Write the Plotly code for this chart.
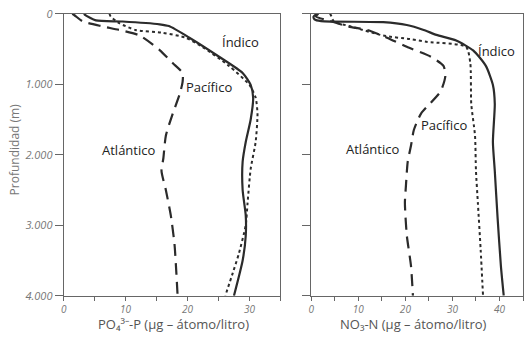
import plotly.graph_objects as go

# ---- Phosphate (left panel) ----
p_ind_depth = [0, 20, 95, 110, 150, 175, 340, 610, 840, 1010, 1190, 1500, 1820, 2100, 2500, 2860, 3150, 3500, 4000]
p_ind_val   = [3.3, 3.5, 5.2, 9.5, 15.5, 17.0, 20.3, 25.1, 28.9, 30.2, 30.6, 30.2, 29.4, 28.9, 28.9, 29.4, 29.4, 28.9, 27.5]

p_pac_depth = [0, 40, 135, 230, 270, 340, 470, 740, 1010, 1190, 1420, 1820, 2200, 2680, 3000, 3400, 3680, 4000]
p_pac_val   = [7.4, 7.6, 9.0, 11.6, 16.0, 19.7, 22.4, 26.7, 30.0, 31.0, 31.3, 31.0, 30.2, 29.7, 29.4, 28.3, 27.3, 26.1]

p_atl_depth = [0, 25, 110, 180, 230, 310, 515, 700, 840, 970, 1150, 1420, 1730, 2050, 2230, 2500, 2860, 3270, 3680, 4000]
p_atl_val   = [1.4, 1.8, 3.1, 6.3, 9.0, 12.3, 15.5, 17.6, 19.2, 19.2, 18.7, 17.6, 16.5, 16.1, 15.8, 16.5, 17.3, 17.9, 18.2, 18.4]

# ---- Nitrate (right panel) ----
n_ind_depth = [0, 40, 80, 105, 120, 160, 230, 300, 380, 520, 740, 1010, 1280, 1820, 2230, 2900, 3580, 4000]
n_ind_val   = [1.2, 0.5, 0.7, 2.1, 15.3, 20.3, 23.9, 26.6, 30.8, 34.4, 37.1, 38.6, 39.0, 38.6, 39.0, 39.6, 40.3, 40.9]

n_pac_depth = [0, 25, 110, 180, 310, 360, 400, 470, 700, 1280, 1730, 2230, 2680, 3350, 4000]
n_pac_val   = [4.0, 4.2, 4.8, 8.4, 15.3, 21.0, 24.7, 32.9, 33.8, 34.0, 34.8, 35.0, 35.4, 36.0, 36.5]

n_atl_depth = [0, 40, 95, 180, 230, 340, 470, 610, 740, 880, 1100, 1420, 1650, 1870, 2100, 2460, 2680, 3140, 3580, 4000]
n_atl_val   = [1.5, 1.0, 3.6, 7.8, 11.9, 16.1, 20.3, 25.4, 28.1, 28.5, 27.5, 23.3, 21.8, 21.2, 20.5, 20.1, 19.9, 20.3, 21.2, 21.6]

y_ticks = [0, 1000, 2000, 3000, 4000]
y_tick_text = ["0", "1.000", "2.000", "3.000", "4.000"]
px_ticks = [0, 5, 10, 15, 20, 25, 30, 35]
px_text = ["0", "", "10", "", "20", "", "30", ""]
nx_ticks = [0, 5, 10, 15, 20, 25, 30, 35, 40, 45]
nx_text = ["0", "", "10", "", "20", "", "30", "", "40", ""]

ink = "#2b2b2b"
axc = "#666666"

fig = go.Figure()

def add(x, y, dash, xa, w=2.2):
    fig.add_trace(go.Scatter(x=x, y=y, mode="lines", xaxis=xa, yaxis="y" if xa == "x" else "y2",
                             line=dict(color=ink, width=w, dash=dash, shape="spline", smoothing=0.6),
                             showlegend=False, hoverinfo="skip"))

add(p_ind_val, p_ind_depth, "solid", "x")
add(p_pac_val, p_pac_depth, "dot", "x", 2.0)
add(p_atl_val, p_atl_depth, "12px,7px", "x")
add(n_ind_val, n_ind_depth, "solid", "x2")
add(n_pac_val, n_pac_depth, "dot", "x2", 2.0)
add(n_atl_val, n_atl_depth, "12px,7px", "x2")

tickfont = dict(family="Open Sans", size=10, color="#777777", style="italic")
common_x = dict(showline=True, linecolor=axc, linewidth=1, mirror=True, ticks="outside",
                ticklen=4, tickcolor=axc, showgrid=False, zeroline=False, tickfont=tickfont)
common_y = dict(showline=True, linecolor=axc, linewidth=1, mirror=True, ticks="outside",
                ticklen=8, tickcolor=axc, showgrid=False, zeroline=False, range=[4000, 0],
                tickvals=y_ticks, ticklabeloverflow="allow",
                tickfont=dict(family="Open Sans", size=11, color="#777777", style="italic"))

fig.update_layout(
    width=528, height=340,
    margin=dict(l=0, r=0, t=0, b=0),
    paper_bgcolor="white", plot_bgcolor="white",
    xaxis=dict(domain=[61/528, 279/528], range=[0, 35], tickvals=px_ticks, ticktext=px_text, anchor="y", **common_x),
    xaxis2=dict(domain=[310/528, 523/528], range=[0, 45], tickvals=nx_ticks, ticktext=nx_text, anchor="y2", **common_x),
    yaxis=dict(domain=[1-301/340, 1-6/340], ticktext=y_tick_text, anchor="x", **common_y),
    yaxis2=dict(domain=[1-301/340, 1-6/340], ticktext=[""]*5, anchor="x2", **common_y),
)

lab = dict(family="Open Sans", size=13, color="#222222")
anns = [
    ("Índico", 28.5, 405, "x", "y"),
    ("Pacífico", 23.5, 1040, "x", "y"),
    ("Atlántico", 10.4, 1930, "x", "y"),
    ("Índico", 39.4, 527, "x2", "y2"),
    ("Pacífico", 28.3, 1580, "x2", "y2"),
    ("Atlántico", 13.1, 1920, "x2", "y2"),
]
for t, x, y, xr, yr in anns:
    fig.add_annotation(text=t, x=x, y=y, xref=xr, yref=yr, showarrow=False, font=lab,
                       xanchor="center", yanchor="middle")

title_font = dict(family="Open Sans", size=13, color="#555555")
fig.add_annotation(text="PO₄³⁻-P (µg – átomo/litro)", x=171/528, y=1-331/340,
                   xref="paper", yref="paper", showarrow=False, font=title_font,
                   xanchor="center", yanchor="middle")
fig.add_annotation(text="NO₃-N (µg – átomo/litro)", x=413/528, y=1-331/340,
                   xref="paper", yref="paper", showarrow=False, font=title_font,
                   xanchor="center", yanchor="middle")
fig.add_annotation(text="Profundidad (m)", x=12/528, y=1-148/340, xref="paper", yref="paper",
                   showarrow=False, textangle=-90, xanchor="center", yanchor="middle",
                   font=dict(family="Open Sans", size=12, color="#777777"))

fig.write_html("out.html")
